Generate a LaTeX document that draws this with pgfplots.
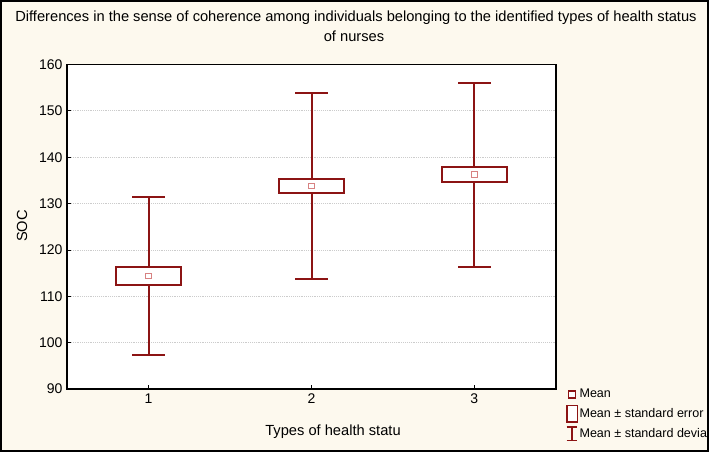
\documentclass[border=0pt]{standalone}
\usepackage{pgfplots}
\pgfplotsset{compat=1.18}
\usepgfplotslibrary{statistics}
\usepackage{fontspec}
\setmainfont{Liberation Sans}
\definecolor{bg}{RGB}{253,249,238}
\definecolor{boxred}{RGB}{140,20,20}
\definecolor{meanpink}{RGB}{215,130,130}
\begin{document}
\begin{tikzpicture}
\begin{scope}[x=0.75pt,y=0.75pt]
\fill[bg] (0,0) rectangle (709,452);
\end{scope}
\begin{axis}[
  at={(50.4pt,47.25pt)}, anchor=south west,
  scale only axis, width=366.45pt, height=243.4pt,
  xmin=0.5, xmax=3.5, ymin=90, ymax=160,
  xtick={1,2,3}, ytick={90,100,...,160},
  tick pos=left,
  ymajorgrids, grid style={densely dotted, gray!40, line width=0.5pt},
  axis background/.style={fill=white},
  axis line style={line width=1.1pt},
  tick style={black, line width=0.6pt}, major tick length=3pt,
  ticklabel style={font=\fontsize{10.5}{12}\selectfont},
  /pgf/number format/assume math mode=true,
  boxplot/draw direction=y,
  boxplot/every whisker/.style={line width=1.5pt},
  boxplot/every box/.style={line width=1.5pt},
  legend style={at={(1.020,0.004)}, anchor=north west, draw=none, fill=none,
    font=\fontsize{9.4}{11}\selectfont, row sep=2.5pt, inner sep=0pt,
    nodes={inner sep=1pt}},
  legend cell align=left,
]
\addlegendimage{legend image code/.code={\draw[boxred, line width=1.3pt, fill=white] (-2.6pt,-2.6pt) rectangle (2.6pt,2.6pt);}}
\addlegendentry{Mean}
\addlegendimage{legend image code/.code={\draw[boxred, line width=1.3pt, fill=white] (-4pt,-6.5pt) rectangle (4pt,6pt);}}
\addlegendentry{Mean ± standard error}
\addlegendimage{legend image code/.code={\draw[boxred, line width=1.3pt] (-4pt,-5pt) -- (4pt,-5pt) (0,-5pt) -- (0,5pt) (-4pt,5pt) -- (4pt,5pt);}}
\addlegendentry{Mean ± standard deviation}

\addplot[boxplot prepared={draw position=1, lower whisker=97.3, lower quartile=112.4, median=112.4, upper quartile=116.4, upper whisker=131.4, box extend=0.4, whisker extend=0.2, every median/.style={draw=none}}, draw=boxred, line width=1.5pt, solid, mark=none, forget plot] coordinates {};
\addplot[boxplot prepared={draw position=2, lower whisker=113.7, lower quartile=132.2, median=132.2, upper quartile=135.4, upper whisker=153.9, box extend=0.4, whisker extend=0.2, every median/.style={draw=none}}, draw=boxred, line width=1.5pt, solid, mark=none, forget plot] coordinates {};
\addplot[boxplot prepared={draw position=3, lower whisker=116.4, lower quartile=134.7, median=134.7, upper quartile=137.8, upper whisker=156.1, box extend=0.4, whisker extend=0.2, every median/.style={draw=none}}, draw=boxred, line width=1.5pt, solid, mark=none, forget plot] coordinates {};
\addplot[only marks, mark=square, mark size=2.1pt, mark options={draw=meanpink, fill=white, line width=0.6pt}, forget plot] coordinates {(1,114.4) (2,133.8) (3,136.3)};
\end{axis}
\begin{scope}[x=0.75pt,y=0.75pt]
\node[font=\fontsize{11}{13}\selectfont] at (356,434) {Differences in the sense of coherence among individuals belonging to the identified types of health status};
\node[font=\fontsize{11}{13}\selectfont] at (354,416) {of nurses};
\node[font=\fontsize{11}{13}\selectfont] at (333,20) {Types of health statu};
\node[font=\fontsize{11}{13}\selectfont, rotate=90] at (22,226) {SOC};
\draw[black, line width=1.5pt] (0.75,0.75) rectangle (708.25,451.25);
\pgfresetboundingbox
\useasboundingbox (0,0) rectangle (709,452);
\end{scope}
\end{tikzpicture}
\end{document}
